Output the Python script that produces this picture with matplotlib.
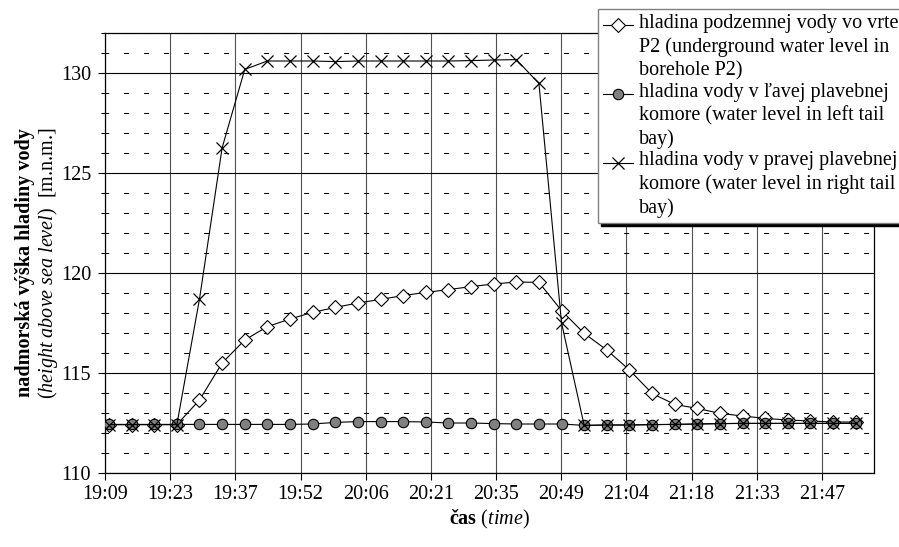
import numpy as np
import matplotlib
matplotlib.use("Agg")
import matplotlib.pyplot as plt
from matplotlib.ticker import MultipleLocator, FixedLocator, FixedFormatter
from matplotlib.legend_handler import HandlerLine2D

plt.rcParams['font.family'] = ['Liberation Serif', 'DejaVu Serif']
plt.rcParams['mathtext.fontset'] = 'custom'
plt.rcParams['mathtext.rm'] = 'Liberation Serif'
plt.rcParams['mathtext.it'] = 'Liberation Serif:italic'
plt.rcParams['mathtext.bf'] = 'Liberation Serif:bold'

FS = 14.5

# measurement times (every 5 min)
times = ["19:10", "19:15", "19:20", "19:25", "19:30", "19:35", "19:40", "19:45",
         "19:50", "19:55", "20:00", "20:05", "20:10", "20:15", "20:20", "20:25",
         "20:30", "20:35", "20:40", "20:45", "20:50", "20:55", "21:00", "21:05",
         "21:10", "21:15", "21:20", "21:25", "21:30", "21:35", "21:40", "21:45",
         "21:50", "21:55"]

# underground water level in borehole P2
p2 = [112.42, 112.42, 112.42, 112.42, 113.65, 115.50, 116.65, 117.32,
      117.70, 118.03, 118.28, 118.50, 118.68, 118.87, 119.03, 119.17,
      119.32, 119.45, 119.55, 119.53, 118.12, 116.98, 116.15, 115.15,
      113.98, 113.43, 113.23, 112.98, 112.85, 112.73, 112.65, 112.60,
      112.55, 112.55]

# water level in left tail bay
left_bay = [112.43, 112.43, 112.43, 112.43, 112.43, 112.43, 112.43, 112.43,
            112.43, 112.45, 112.53, 112.57, 112.57, 112.57, 112.55, 112.50,
            112.50, 112.47, 112.45, 112.45, 112.45, 112.38, 112.40, 112.40,
            112.42, 112.43, 112.45, 112.47, 112.48, 112.48, 112.48, 112.48,
            112.48, 112.48]

# water level in right tail bay
right_bay = [112.42, 112.42, 112.42, 112.42, 118.70, 126.26, 130.18, 130.60,
             130.60, 130.60, 130.57, 130.60, 130.60, 130.60, 130.60, 130.60,
             130.62, 130.65, 130.67, 129.48, 117.50, 112.38, 112.40, 112.40,
             112.42, 112.43, 112.45, 112.47, 112.48, 112.48, 112.48, 112.48,
             112.48, 112.48]

tick_labels = ["19:09", "19:23", "19:37", "19:52", "20:06", "20:21",
               "20:35", "20:49", "21:04", "21:18", "21:33", "21:47"]

labels = ["hladina podzemnej vody vo vrte\nP2 (underground water level in\nborehole P2)",
          "hladina vody v ľavej plavebnej\nkomore (water level in left tail\nbay)",
          "hladina vody v pravej plavebnej\nkomore (water level in right tail\nbay)"]


def to_day(s):
    h, m = s.split(":")
    return (int(h) * 60 + int(m)) / 1440.0


class TopLineHandler(HandlerLine2D):
    # put the legend symbol next to the first line of a 3-line label
    def create_artists(self, legend, orig_handle, xdescent, ydescent,
                       width, height, fontsize, trans):
        arts = super().create_artists(legend, orig_handle, xdescent, ydescent,
                                      width, height, fontsize, trans)
        for a in arts:
            a.set_ydata(np.asarray(a.get_ydata(), dtype=float) + 1.07 * fontsize)
        return arts


x = np.array([to_day(t) for t in times])

fig = plt.figure(figsize=(8.99, 5.47), dpi=100)
ax = fig.add_axes([105 / 899, 1 - 473 / 547, 769 / 899, 440 / 547])

ax.plot(x, p2, color='black', lw=0.8, marker='D', ms=6.8, mfc='white',
        mec='black', mew=0.8, label=labels[0], zorder=3)
ax.plot(x, left_bay, color='black', lw=0.8, marker='o', ms=7.5, mfc='#808080',
        mec='black', mew=0.8, label=labels[1], zorder=4)
ax.plot(x, right_bay, color='black', lw=0.8, marker='x', ms=8, mec='black',
        mew=0.9, label=labels[2], zorder=5)

ax.set_xlim(0.798, 0.916)
ax.set_ylim(110, 132)

tick_pos = [0.798 + 0.01 * i for i in range(len(tick_labels))]
ax.xaxis.set_major_locator(FixedLocator(tick_pos))
ax.xaxis.set_major_formatter(FixedFormatter(tick_labels))
ax.yaxis.set_major_locator(FixedLocator([110, 115, 120, 125, 130]))
ax.yaxis.set_minor_locator(MultipleLocator(1))

ax.tick_params(axis='both', which='major', direction='out', length=5,
               width=0.8, labelsize=FS, colors='black')
ax.tick_params(axis='y', which='minor', direction='out', length=3, width=0.8)
ax.tick_params(axis='y', which='major', pad=5)
ax.tick_params(axis='x', which='major', pad=3.5)

ax.grid(which='major', axis='y', color='black', lw=0.8)
ax.grid(which='major', axis='x', color='#505050', lw=0.8)
ax.grid(which='minor', axis='y', color='black', lw=0.75,
        linestyle=(1.3, (4.8, 14.4)))
ax.set_axisbelow(True)
for sp in ax.spines.values():
    sp.set_color('black')
    sp.set_linewidth(0.9)

fig.text(25 / 899, 1 - 263 / 547, "nadmorská výška hladiny vody",
         rotation=90, ha='center', va='center', fontsize=FS, fontweight='bold')
fig.text(48 / 899, 1 - 263 / 547,
         r"$\mathit{(height\ above\ sea\ level)}$  [m.n.m.]",
         rotation=90, ha='center', va='center', fontsize=FS)
fig.text(489 / 899, 1 - 519 / 547, r"čas $\mathit{(time)}$",
         ha='center', va='center', fontsize=FS, fontweight='bold')

leg = ax.legend(loc='upper left', bbox_to_anchor=(598 / 899, 1 - 9 / 547),
                bbox_transform=fig.transFigure, borderaxespad=0,
                fontsize=FS, frameon=True, fancybox=False,
                shadow={'color': 'black', 'alpha': 1}, handlelength=1.5,
                handletextpad=0.3, borderpad=0.25, labelspacing=0.12,
                framealpha=1, handler_map={matplotlib.lines.Line2D: TopLineHandler()})
for t in leg.get_texts():
    t.set_linespacing(1.28)
leg.get_frame().set_edgecolor('#808080')
leg.get_frame().set_linewidth(1.0)

fig.savefig("out.png", dpi=100)
